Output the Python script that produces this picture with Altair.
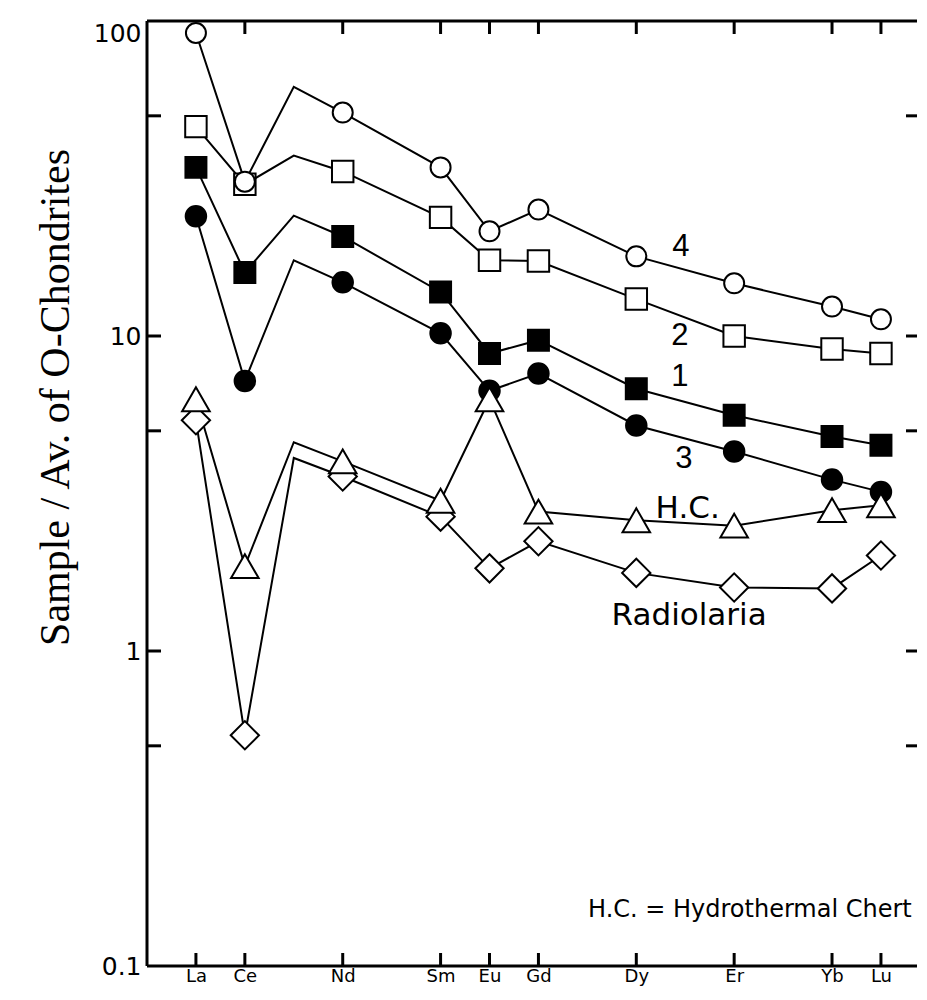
import altair as alt
import pandas as pd

# ---- data ----
elements = ["La", "Ce", "Pr", "Nd", "Sm", "Eu", "Gd", "Dy", "Er", "Yb", "Lu"]
atomic = [57, 58, 59, 60, 62, 63, 64, 66, 68, 70, 71]
has_marker = [True, True, False, True, True, True, True, True, True, True, True]

s4 = [91.6, 30.9, 61.8, 51.2, 34.3, 21.5, 25.2, 17.9, 14.7, 12.4, 11.3]   # open circles
s2 = [46.2, 30.3, 37.4, 33.3, 23.8, 17.4, 17.3, 13.1, 10.0, 9.1, 8.8]     # open squares
s1 = [34.3, 15.9, 24.1, 20.7, 13.8, 8.8, 9.7, 6.8, 5.6, 4.8, 4.5]         # filled squares
s3 = [24.0, 7.2, 17.4, 14.8, 10.2, 6.7, 7.6, 5.2, 4.3, 3.5, 3.2]          # filled circles
hc = [6.3, 1.86, 4.6, 4.0, 3.0, 6.3, 2.77, 2.6, 2.5, 2.8, 2.9]            # H.C. triangles
rad = [5.4, 0.54, 4.1, 3.58, 2.67, 1.83, 2.23, 1.77, 1.59, 1.58, 2.01]    # Radiolaria diamonds

axis_elements = ["La", "Ce", "Nd", "Sm", "Eu", "Gd", "Dy", "Er", "Yb", "Lu"]
axis_atomic = [57, 58, 60, 62, 63, 64, 66, 68, 70, 71]
top_tick_atomic = [58, 60, 62, 63, 64, 66, 68, 70, 71]
y_label_values = [0.1, 1, 10, 100]
y_tick_values = [50, 10, 5, 1, 0.5]

num_labels = ["4", "2", "1", "3"]
num_x = [66.91, 66.89, 66.89, 66.97]
num_y = [19.1, 10.0, 7.42, 4.08]
word_labels = ["H.C.", "Radiolaria"]
word_x = [67.05, 67.08]
word_y = [2.83, 1.29]
note_label = ["H.C. = Hydrothermal Chert"]
note_x = [71.63]
note_y = [0.151]

W, H = 770, 945
X_MIN = 56
X_MAX = X_MIN + W / 48.93

series = {"4": s4, "2": s2, "1": s1, "3": s3, "HC": hc, "Rad": rad}
rows = []
for name, vals in series.items():
    for el, z, v, m in zip(elements, atomic, vals, has_marker):
        rows.append({"series": name, "el": el, "z": z, "v": v, "m": m})
df = pd.DataFrame(rows)

xs = alt.Scale(domain=[X_MIN, X_MAX], nice=False, zero=False)
ys = alt.Scale(type="log", domain=[0.1, 100], nice=False)

label_expr = " : ".join(
    f"datum.value == {z} ? '{e}'" for z, e in zip(axis_atomic, axis_elements)
) + " : ''"

base = alt.Chart(df)

lines = base.mark_line(color="black", strokeWidth=2).encode(
    x=alt.X("z:Q", scale=xs,
            axis=alt.Axis(values=axis_atomic, labelExpr=label_expr, ticks=False,
                          domain=False, grid=False, title=None,
                          labelFont="DejaVu Sans", labelFontSize=18,
                          labelColor="black", labelPadding=1)),
    y=alt.Y("v:Q", scale=ys,
            axis=alt.Axis(values=y_label_values, format="~g", ticks=False,
                          domain=False, grid=False,
                          title="Sample / Av. of O-Chondrites",
                          titleFont="Liberation Serif", titleFontSize=42,
                          titleFontWeight="normal", titleColor="black",
                          titleAngle=270, titleAlign="center", titleBaseline="middle",
                          titleX=-92, titleY=376,
                          labelFont="DejaVu Sans", labelFontSize=25,
                          labelColor="black", labelPadding=6,
                          labelOffset={"condition": {"test": "datum.value == 100", "value": 12}, "value": 0})),
    detail="series:N",
    order="z:Q",
)

pts = base.transform_filter("datum.m")


def marker(name, shape, size, filled):
    return pts.transform_filter(f"datum.series == '{name}'").mark_point(
        shape=shape, size=size, filled=True,
        fill="black" if filled else "white",
        stroke="black", strokeWidth=2, opacity=1,
    ).encode(x=alt.X("z:Q", scale=xs), y=alt.Y("v:Q", scale=ys))


markers = [
    marker("Rad", "diamond", 800, False),
    marker("3", "circle", 420, True),
    marker("1", "square", 440, True),
    marker("2", "square", 460, False),
    marker("4", "circle", 400, False),
    marker("HC", "triangle-up", 760, False),
]

one = alt.Data(values=[{}])
frame_top = alt.Chart(one).mark_rule(color="black", strokeWidth=3).encode(
    x=alt.value(0), x2=alt.value(W), y=alt.value(0))
frame_left = alt.Chart(one).mark_rule(color="black", strokeWidth=3).encode(
    x=alt.value(0), y=alt.value(0), y2=alt.value(H))
frame_bottom = alt.Chart(one).mark_rule(color="black", strokeWidth=3).encode(
    x=alt.value(0), x2=alt.value(W), y=alt.value(H))

top_ticks = alt.Chart(pd.DataFrame({"z": top_tick_atomic})).mark_rule(
    color="black", strokeWidth=3).encode(
    x=alt.X("z:Q", scale=xs), y=alt.value(0), y2=alt.value(13))
bottom_ticks = alt.Chart(pd.DataFrame({"z": axis_atomic})).mark_rule(
    color="black", strokeWidth=3).encode(
    x=alt.X("z:Q", scale=xs), y=alt.value(H - 13), y2=alt.value(H))
left_ticks = alt.Chart(pd.DataFrame({"v": y_tick_values})).mark_rule(
    color="black", strokeWidth=3).encode(
    y=alt.Y("v:Q", scale=ys), x=alt.value(0), x2=alt.value(14))
right_ticks = alt.Chart(pd.DataFrame({"v": y_tick_values})).mark_rule(
    color="black", strokeWidth=3).encode(
    y=alt.Y("v:Q", scale=ys), x=alt.value(W - 11), x2=alt.value(W))

nums = alt.Chart(pd.DataFrame({"t": num_labels, "x": num_x, "y": num_y})).mark_text(
    font="Liberation Sans", fontSize=31, color="black", align="center", baseline="middle"
).encode(x=alt.X("x:Q", scale=xs), y=alt.Y("y:Q", scale=ys), text="t:N")
words = alt.Chart(pd.DataFrame({"t": word_labels, "x": word_x, "y": word_y})).mark_text(
    font="DejaVu Sans", fontSize=31, color="black", align="center", baseline="middle"
).encode(x=alt.X("x:Q", scale=xs), y=alt.Y("y:Q", scale=ys), text="t:N")
note = alt.Chart(pd.DataFrame({"t": note_label, "x": note_x, "y": note_y})).mark_text(
    font="DejaVu Sans", fontSize=24, color="black", align="right", baseline="middle"
).encode(x=alt.X("x:Q", scale=xs), y=alt.Y("y:Q", scale=ys), text="t:N")

chart = alt.layer(
    lines, *markers, frame_top, frame_left, frame_bottom,
    top_ticks, bottom_ticks, left_ticks, right_ticks, nums, words, note,
).properties(
    width=W, height=H,
    background="white",
    autosize=alt.AutoSizeParams(type="none"),
    padding={"left": 139, "top": 13, "right": 1, "bottom": 20},
).configure_view(stroke=None)

chart.save("out.html", embed_options={"renderer": "svg", "actions": False})
